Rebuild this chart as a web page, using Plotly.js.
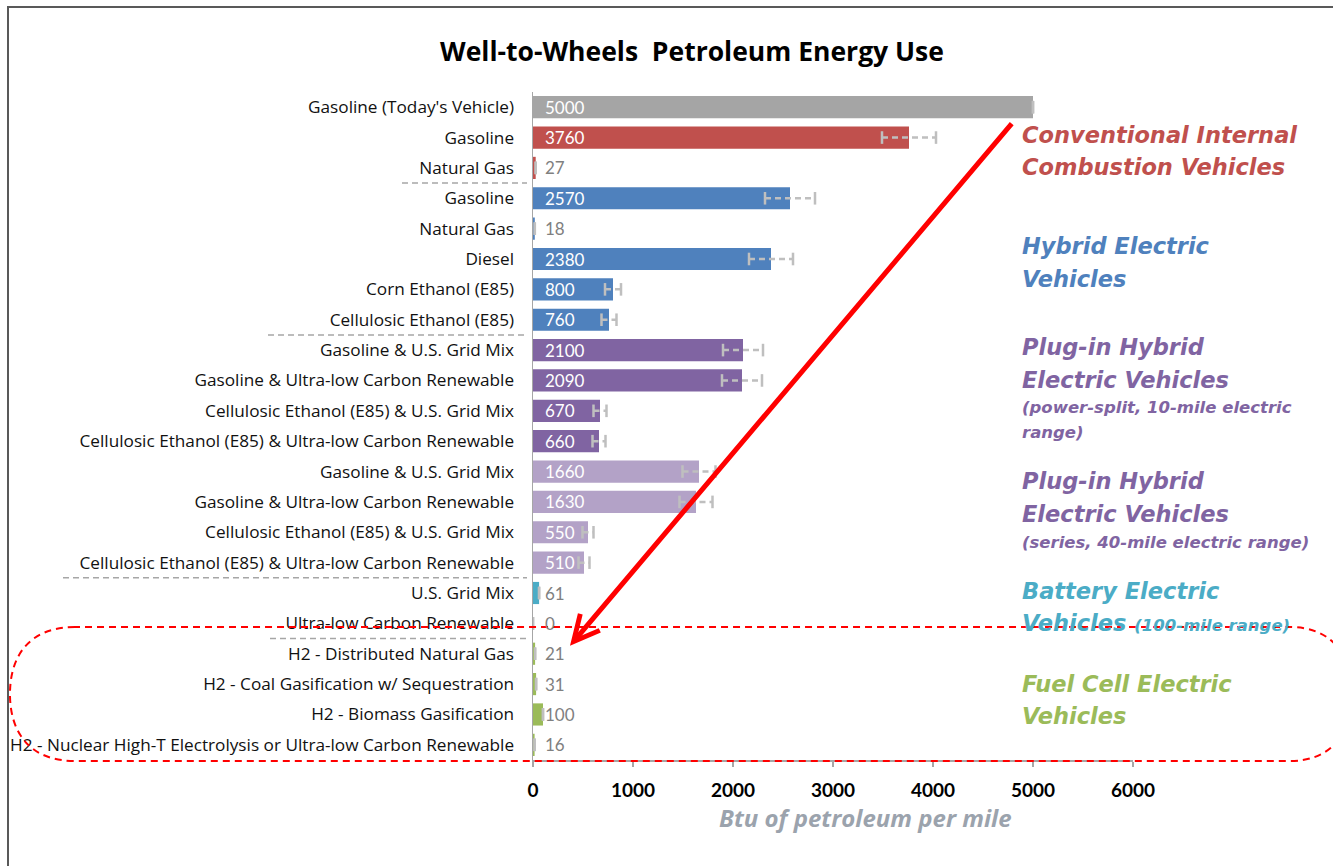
<!DOCTYPE html>
<html>
<head>
<meta charset="utf-8">
<script src="https://cdn.plot.ly/plotly-3.0.1.min.js"></script>
<style>html,body{margin:0;padding:0;background:#fff;}#chart{width:1333px;height:866px;}</style>
</head>
<body>
<div id="chart"></div>
<script>
// ---------- DATA ----------
const categories = [
  "Gasoline (Today's Vehicle)",
  "Gasoline",
  "Natural Gas",
  "Gasoline",
  "Natural Gas",
  "Diesel",
  "Corn Ethanol (E85)",
  "Cellulosic Ethanol (E85)",
  "Gasoline & U.S. Grid Mix",
  "Gasoline & Ultra-low Carbon Renewable",
  "Cellulosic Ethanol (E85) & U.S. Grid Mix",
  "Cellulosic Ethanol (E85) & Ultra-low Carbon Renewable",
  "Gasoline & U.S. Grid Mix",
  "Gasoline & Ultra-low Carbon Renewable",
  "Cellulosic Ethanol (E85) & U.S. Grid Mix",
  "Cellulosic Ethanol (E85) & Ultra-low Carbon Renewable",
  "U.S. Grid Mix",
  "Ultra-low Carbon Renewable",
  "H2 - Distributed Natural Gas",
  "H2 - Coal Gasification w/ Sequestration",
  "H2 - Biomass Gasification",
  "H2 - Nuclear High-T Electrolysis or Ultra-low Carbon Renewable"
];
const values = [5000, 3760, 27, 2570, 18, 2380, 800, 760, 2100, 2090, 670, 660,
                1660, 1630, 550, 510, 61, 0, 21, 31, 100, 16];
const errors = [0, 270, 0, 250, 0, 220, 80, 75, 200, 200, 65, 65,
                165, 165, 55, 55, 0, 0, 0, 0, 0, 0];
const groups = ["today", "icev", "icev", "hev", "hev", "hev", "hev", "hev",
                "phev10", "phev10", "phev10", "phev10",
                "phev40", "phev40", "phev40", "phev40",
                "bev", "bev", "fcev", "fcev", "fcev", "fcev"];
const xTicks = [0, 1000, 2000, 3000, 4000, 5000, 6000];
const chartTitle = "Well-to-Wheels  Petroleum Energy Use";
const xTitle = "Btu of petroleum per mile";
const groupLabels = [
  {group: "icev",   lines: [["Conventional Internal", "big"], ["Combustion Vehicles", "big"]]},
  {group: "hev",    lines: [["Hybrid Electric", "big"], ["Vehicles", "big"]]},
  {group: "phev10", lines: [["Plug-in Hybrid", "big"], ["Electric Vehicles", "big"], ["(power-split, 10-mile electric", "small"], ["range)", "small"]]},
  {group: "phev40", lines: [["Plug-in Hybrid", "big"], ["Electric Vehicles", "big"], ["(series, 40-mile electric range)", "small"]]},
  {group: "bev",    lines: [["Battery Electric", "big"], ["Vehicles <span style=\"font-size:16.5px\">(100-mile range)</span>", "big"]]},
  {group: "fcev",   lines: [["Fuel Cell Electric", "big"], ["Vehicles", "big"]]}
];
const separatorsAfter = [2, 7, 15, 17];

// ---------- STYLE ----------
const groupColor = {
  today: "#a5a5a5", icev: "#c0504d", hev: "#4f81bd", phev10: "#8064a2",
  phev40: "#b3a2c7", bev: "#4bacc6", fcev: "#9bbb59"
};
const labelColor = {
  icev: "#c0504d", hev: "#4f81bd", phev10: "#8064a2", phev40: "#8064a2",
  bev: "#4bacc6", fcev: "#9bbb59"
};
const L = 533, R = 1133, T = 92, B = 760, W = 1333, H = 866;
const px = x => (x - L) / (R - L);
const py = y => (B - y) / (B - T);

const idx = values.map((_, i) => i);

// bars
const barTrace = {
  type: "bar", orientation: "h",
  x: values, y: idx,
  width: 0.73,
  marker: {color: groups.map(g => groupColor[g]), line: {width: 0}},
  hoverinfo: "x+text", text: categories, textposition: "none",
  showlegend: false
};

// dashed error bars (lines + caps)
const ex = [], ey = [], cx = [], cy = [];
values.forEach((v, i) => {
  const e = errors[i];
  if (e > 0) { ex.push(v - e, v + e, null); ey.push(i, i, null); }
  cx.push(v - e, v + e); cy.push(i, i);
});
const errLine = {
  type: "scatter", mode: "lines", x: ex, y: ey,
  line: {color: "#bfbfbf", width: 2.5, dash: "6px,4px"},
  hoverinfo: "skip", showlegend: false, connectgaps: false
};
const errCaps = {
  type: "scatter", mode: "markers", x: cx, y: cy,
  marker: {symbol: "line-ns-open", size: 9, color: "#bfbfbf", line: {color: "#bfbfbf", width: 2.5}},
  hoverinfo: "skip", showlegend: false
};

// annotations
const annotations = [];
values.forEach((v, i) => {
  annotations.push({
    x: 0, y: i, xref: "x", yref: "y", text: String(v), showarrow: false,
    xanchor: "left", yanchor: "middle", xshift: 10,
    font: {family: "Lato, sans-serif", size: 17, color: v >= 400 ? "#ffffff" : "#808080"}
  });
});
// group labels on the right
const lineY = {
  icev: [135, 167], hev: [246, 279], phev10: [347, 380, 407, 432],
  phev40: [481, 514, 542], bev: [591, 623], fcev: [684, 716]
};
groupLabels.forEach(gl => {
  gl.lines.forEach((ln, k) => {
    annotations.push({
      xref: "paper", yref: "paper", x: px(1020), y: py(lineY[gl.group][k]),
      text: ln[0], showarrow: false, xanchor: "left", yanchor: "middle",
      font: {family: "DejaVu Sans, sans-serif", size: ln[1] === "big" ? 22.5 : 16.5,
             color: labelColor[gl.group], weight: "bold", style: "italic"}
    });
  });
});
// x axis title
annotations.push({
  xref: "paper", yref: "paper", x: px(865), y: py(817), text: xTitle, showarrow: false,
  xanchor: "center", yanchor: "middle",
  font: {family: "Open Sans, sans-serif", size: 24, color: "#9ba3ad", weight: "bold", style: "italic"}
});
// red arrow
annotations.push({
  xref: "x", yref: "y", axref: "x", ayref: "y",
  x: (570 - L) * 10, y: (645 - 107) / 30.33,
  ax: (1013 - L) * 10, ay: (122 - 107) / 30.33,
  text: "", showarrow: true, arrowhead: 5, arrowsize: 1, arrowwidth: 5, arrowcolor: "#ff0000"
});

// shapes
const shapes = [];
separatorsAfter.forEach((s, k) => {
  const x0 = [402, 268, 63, 270][k];
  shapes.push({type: "line", xref: "paper", yref: "y", x0: px(x0), x1: px(527), y0: s + 0.5, y1: s + 0.5,
               line: {color: "#a6a6a6", width: 1.5, dash: "6px,4px"}, layer: "above"});
});
// outer frame
shapes.push({type: "rect", xref: "paper", yref: "paper", x0: px(8), x1: px(1345), y0: py(7), y1: py(880),
             line: {color: "#595959", width: 2}, fillcolor: "rgba(0,0,0,0)", layer: "above"});
// red dashed rounded outline
const P = (x, y) => px(x).toFixed(4) + "," + py(y).toFixed(4);
const path = "M" + P(75, 627) +
  " C" + P(30, 627) + " " + P(10, 655) + " " + P(10, 694) +
  " C" + P(10, 733) + " " + P(30, 761) + " " + P(75, 761) +
  " L" + P(1290, 761) +
  " C" + P(1330, 761) + " " + P(1352, 735) + " " + P(1352, 694) +
  " C" + P(1352, 653) + " " + P(1330, 627) + " " + P(1290, 627) + " Z";
shapes.push({type: "path", xref: "paper", yref: "paper", path: path,
             line: {color: "#ff0000", width: 2, dash: "7px,5px"}, fillcolor: "rgba(0,0,0,0)", layer: "above"});

const layout = {
  width: W, height: H,
  margin: {l: L, r: W - R, t: T, b: H - B, pad: 0},
  paper_bgcolor: "#ffffff", plot_bgcolor: "#ffffff",
  title: {text: chartTitle, x: 692 / W, xref: "container", xanchor: "center",
          y: 1 - 52 / H, yref: "container", yanchor: "middle",
          font: {family: "Open Sans, sans-serif", size: 26.5, color: "#000000", weight: "bold"}},
  xaxis: {range: [0, 6000], tickvals: xTicks, ticktext: xTicks.map(String),
          showgrid: false, zeroline: false, showline: true, linecolor: "#a6a6a6", linewidth: 1.5,
          ticks: "outside", ticklen: 5, tickcolor: "#a6a6a6", tickwidth: 1.5,
          ticklabelstandoff: 8,
          tickfont: {family: "Lato, sans-serif", size: 19, color: "#000000", weight: "bold"},
          fixedrange: true},
  yaxis: {range: [21.5, -0.5], tickvals: idx, ticktext: categories,
          showgrid: false, zeroline: false, showline: true, linecolor: "#a6a6a6", linewidth: 1.5,
          ticks: "", ticklabelstandoff: 14,
          tickfont: {family: "Open Sans, sans-serif", size: 17.2, color: "#111111"},
          fixedrange: true},
  bargap: 0.27,
  showlegend: false,
  annotations: annotations,
  shapes: shapes
};

Plotly.newPlot("chart", [barTrace, errLine, errCaps], layout, {displayModeBar: false, staticPlot: true});
</script>
</body>
</html>
